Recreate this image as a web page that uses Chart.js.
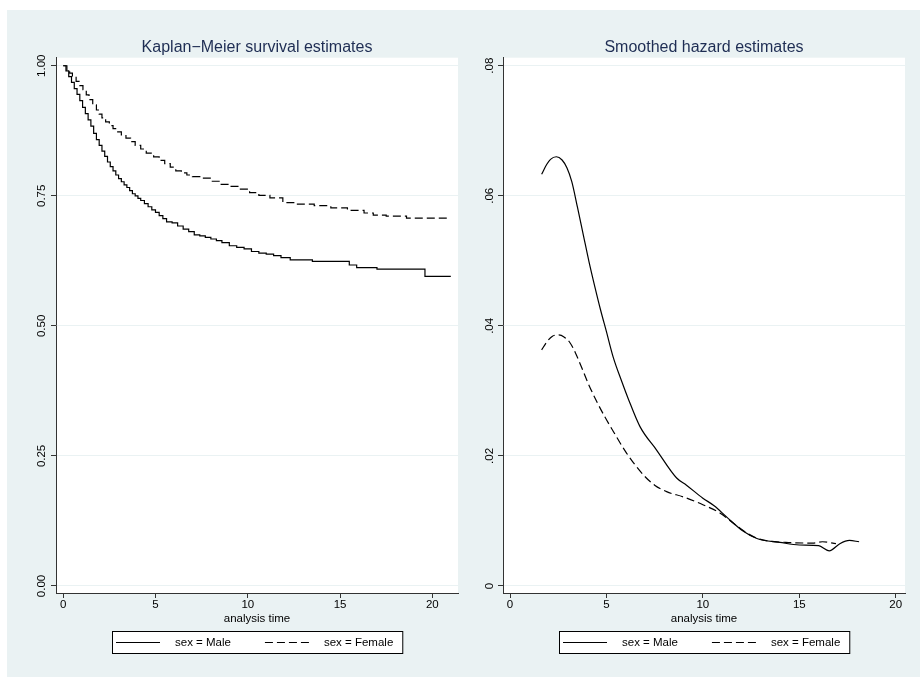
<!DOCTYPE html>
<html><head><meta charset="utf-8">
<script src="https://cdn.jsdelivr.net/npm/chart.js@4.4.1/dist/chart.umd.min.js"></script>
<style>
html,body{margin:0;padding:0;background:#fff;width:920px;height:678px;overflow:hidden}
#bg{position:absolute;left:7px;top:10px;width:913px;height:667px;background:#eaf2f3}
canvas{position:absolute}
#c1{left:7px;top:10px}
#c2{left:460px;top:10px}
</style></head><body>
<div id="bg"></div>
<canvas id="c1" width="453" height="667"></canvas>
<canvas id="c2" width="460" height="667"></canvas>
<script>
// ---- Data ----
const seriesLabels = ['sex = Male', 'sex = Female'];
const xTickValues = [0, 5, 10, 15, 20];

const kmMaleTime = [0, 0.15, 0.3, 0.45, 0.6, 0.75, 0.9, 1.05, 1.2, 1.35, 1.5, 1.65, 1.8, 1.95, 2.1, 2.25, 2.4, 2.55, 2.7, 2.85, 3.0, 3.15, 3.3, 3.45, 3.6, 3.75, 3.9, 4.05, 4.2, 4.4, 4.6, 4.8, 5.0, 5.2, 5.4, 5.6, 5.9, 6.2, 6.5, 6.8, 7.1, 7.4, 7.7, 8.0, 8.3, 8.6, 9.0, 9.4, 9.8, 10.2, 10.6, 11.0, 11.4, 11.8, 12.3, 13.5, 15.5, 15.9, 17.0, 19.6, 21.0];
const kmMaleSurv = [1.000, 0.990, 0.979, 0.968, 0.956, 0.945, 0.933, 0.920, 0.908, 0.896, 0.884, 0.870, 0.858, 0.847, 0.836, 0.826, 0.815, 0.806, 0.798, 0.790, 0.783, 0.777, 0.771, 0.766, 0.760, 0.754, 0.750, 0.745, 0.741, 0.735, 0.729, 0.723, 0.718, 0.712, 0.706, 0.700, 0.698, 0.692, 0.686, 0.681, 0.675, 0.673, 0.670, 0.667, 0.664, 0.660, 0.654, 0.651, 0.648, 0.643, 0.640, 0.638, 0.635, 0.631, 0.627, 0.624, 0.617, 0.612, 0.609, 0.595, 0.595];

const kmFemaleTime = [0, 0.2, 0.35, 0.5, 0.7, 0.9, 1.07, 1.25, 1.4, 1.6, 1.8, 1.95, 2.1, 2.3, 2.5, 2.7, 2.9, 3.15, 3.4, 3.65, 3.9, 4.2, 4.5, 4.9, 5.2, 5.5, 5.8, 6.1, 6.4, 6.7, 7.0, 7.4, 8.0, 8.5, 9.0, 9.6, 10.1, 10.6, 11.2, 11.9, 12.6, 13.6, 14.5, 15.4, 16.3, 16.8, 17.5, 18.6, 21.0];
const kmFemaleSurv = [1.000, 0.992, 0.986, 0.979, 0.970, 0.962, 0.954, 0.944, 0.935, 0.925, 0.915, 0.907, 0.900, 0.892, 0.885, 0.879, 0.873, 0.867, 0.861, 0.854, 0.847, 0.840, 0.832, 0.825, 0.818, 0.812, 0.805, 0.798, 0.794, 0.790, 0.787, 0.784, 0.778, 0.772, 0.768, 0.763, 0.756, 0.751, 0.746, 0.737, 0.734, 0.731, 0.727, 0.722, 0.717, 0.713, 0.711, 0.707, 0.707];

const kmYTicks = [0, 0.25, 0.5, 0.75, 1];
const kmYLabels = ['0.00', '0.25', '0.50', '0.75', '1.00'];

const hzMaleTime = [1.64, 1.9, 2.1, 2.4, 2.7, 2.95, 3.2, 3.5, 3.8, 4.1, 4.4, 4.7, 5.0, 5.35, 5.8, 6.13, 6.74, 7.6, 8.64, 9.15, 10.0, 10.6, 11.2, 12.1, 12.8, 14.0, 15.0, 16.0, 16.55, 17.1, 17.6, 18.1];
const hzMaleRate = [0.0633, 0.0648, 0.0656, 0.0660, 0.0655, 0.0643, 0.0622, 0.0582, 0.0540, 0.0498, 0.0460, 0.0424, 0.0391, 0.0352, 0.0314, 0.0288, 0.0245, 0.0209, 0.0166, 0.0155, 0.0135, 0.0123, 0.0107, 0.0084, 0.0073, 0.0067, 0.0063, 0.0062, 0.0054, 0.0065, 0.0070, 0.0068];

const hzFemaleTime = [1.64, 1.9, 2.2, 2.5, 2.8, 3.11, 3.4, 3.7, 4.06, 4.49, 4.9, 5.35, 6.05, 6.91, 7.5, 8.12, 8.98, 10.0, 10.9, 11.6, 12.3, 12.95, 14.3, 15.7, 16.2, 16.9];
const hzFemaleRate = [0.0363, 0.0375, 0.0384, 0.0386, 0.0383, 0.0374, 0.0358, 0.0337, 0.0311, 0.0284, 0.0261, 0.0238, 0.0204, 0.0171, 0.0155, 0.0145, 0.0137, 0.0125, 0.0112, 0.0096, 0.0081, 0.0072, 0.0067, 0.0066, 0.0068, 0.0065];

const hzYTicks = [0, 0.02, 0.04, 0.06, 0.08];
const hzYLabels = ['0', '.02', '.04', '.06', '.08'];

// ---- Styling / helpers ----
Chart.defaults.font.family = "'Liberation Sans', Arial, Helvetica, sans-serif";
Chart.defaults.font.size = 11.5;
Chart.defaults.color = '#000';

const zip = (xs, ys) => xs.map((x, i) => ({x: x, y: ys[i]}));
const AXIS = '#333333';
const GRID = '#eaf2f3';
const DASH = [8, 4];

const plotBg = {
  id: 'plotBg',
  beforeDraw(chart) {
    const {ctx, chartArea: a} = chart;
    ctx.save();
    ctx.fillStyle = '#ffffff';
    ctx.fillRect(a.left, a.top, a.right - a.left, a.bottom - a.top);
    ctx.restore();
  }
};

const boxLegend = {
  id: 'boxLegend',
  afterDraw(chart) {
    const {ctx, chartArea: a} = chart;
    const ds = chart.data.datasets;
    ctx.save();
    ctx.font = "11.5px 'Liberation Sans', Arial, sans-serif";
    const sample = 44, gapText = 15, gapItem = 34, padL = 4, padR = 9;
    let w = padL + padR;
    ds.forEach((d, i) => { w += sample + gapText + ctx.measureText(d.label).width + (i < ds.length - 1 ? gapItem : 0); });
    const boxH = 22;
    const x0 = Math.round((a.left + a.right) / 2 - w / 2);
    const y0 = Math.round(a.bottom + 38);
    ctx.fillStyle = '#ffffff';
    ctx.fillRect(x0, y0, w, boxH);
    ctx.strokeStyle = '#000';
    ctx.lineWidth = 1;
    ctx.strokeRect(x0 + 0.5, y0 + 0.5, w, boxH);
    const cy = y0 + boxH / 2 + 0.5;
    let x = x0 + padL;
    ds.forEach((d) => {
      ctx.beginPath();
      ctx.setLineDash(d.borderDash || []);
      ctx.lineWidth = 1.2;
      ctx.strokeStyle = d.borderColor;
      ctx.moveTo(x, cy);
      ctx.lineTo(x + sample, cy);
      ctx.stroke();
      ctx.setLineDash([]);
      x += sample + gapText;
      ctx.fillStyle = '#000';
      ctx.textBaseline = 'middle';
      ctx.textAlign = 'left';
      ctx.fillText(d.label, x, cy);
      x += ctx.measureText(d.label).width + gapItem;
    });
    ctx.restore();
  }
};

function makeChart(canvasId, cfg) {
  return new Chart(document.getElementById(canvasId), {
    type: 'line',
    data: { datasets: cfg.datasets },
    plugins: [plotBg, boxLegend],
    options: {
      responsive: false,
      animation: false,
      events: [],
      layout: { padding: { left: 0, right: cfg.padRight, top: 27.5, bottom: 44 } },
      plugins: {
        legend: { display: false },
        tooltip: { enabled: false },
        title: {
          display: true, text: cfg.title, color: '#1e2d53', fullSize: false,
          font: { size: 16, weight: 'normal' }, padding: { top: 0, bottom: 1 }
        }
      },
      scales: {
        x: {
          type: 'linear', min: cfg.xmin, max: cfg.xmax,
          afterBuildTicks: s => { s.ticks = xTickValues.map(v => ({value: v})); },
          afterFit: s => { s.height = 40; },
          grid: { drawOnChartArea: false, drawTicks: true, tickLength: 5, tickColor: AXIS, tickWidth: 1 },
          border: { display: true, color: AXIS, width: 1 },
          ticks: { color: '#000', padding: 0, maxRotation: 0, callback: v => String(v) },
          title: { display: true, text: 'analysis time', color: '#000', padding: { top: 0, bottom: 7.5 } }
        },
        y: {
          type: 'linear', min: cfg.ymin, max: cfg.ymax,
          afterBuildTicks: s => { s.ticks = cfg.yTicks.map(v => ({value: v})); },
          afterFit: s => { s.width = cfg.yWidth; },
          grid: { color: GRID, lineWidth: 1, drawTicks: true, tickLength: 5, tickColor: AXIS, tickWidth: 1 },
          border: { display: true, color: AXIS, width: 1 },
          ticks: { color: '#000', minRotation: 90, maxRotation: 90, crossAlign: 'center', padding: cfg.yPad,
                   callback: (v, i) => cfg.yLabels[i] }
        }
      }
    }
  });
}

const lineBase = { borderColor: '#000', borderWidth: 1.2, pointRadius: 0, fill: false };

makeChart('c1', {
  title: 'Kaplan\u2212Meier survival estimates',
  xmin: -0.39, xmax: 21.39, ymin: -0.0135, ymax: 1.0155,
  yTicks: kmYTicks, yLabels: kmYLabels, yWidth: 49, padRight: 2, yPad: -2,
  datasets: [
    Object.assign({}, lineBase, { label: seriesLabels[0], data: zip(kmMaleTime, kmMaleSurv), stepped: true }),
    Object.assign({}, lineBase, { label: seriesLabels[1], data: zip(kmFemaleTime, kmFemaleSurv), stepped: true, borderDash: DASH })
  ]
});

makeChart('c2', {
  title: 'Smoothed hazard estimates',
  xmin: -0.363, xmax: 20.48, ymin: -0.00108, ymax: 0.08123,
  yTicks: hzYTicks, yLabels: hzYLabels, yWidth: 43, padRight: 15, yPad: 0,
  datasets: [
    Object.assign({}, lineBase, { label: seriesLabels[0], data: zip(hzMaleTime, hzMaleRate), cubicInterpolationMode: 'monotone' }),
    Object.assign({}, lineBase, { label: seriesLabels[1], data: zip(hzFemaleTime, hzFemaleRate), cubicInterpolationMode: 'monotone', borderDash: DASH })
  ]
});
</script>
</body></html>
